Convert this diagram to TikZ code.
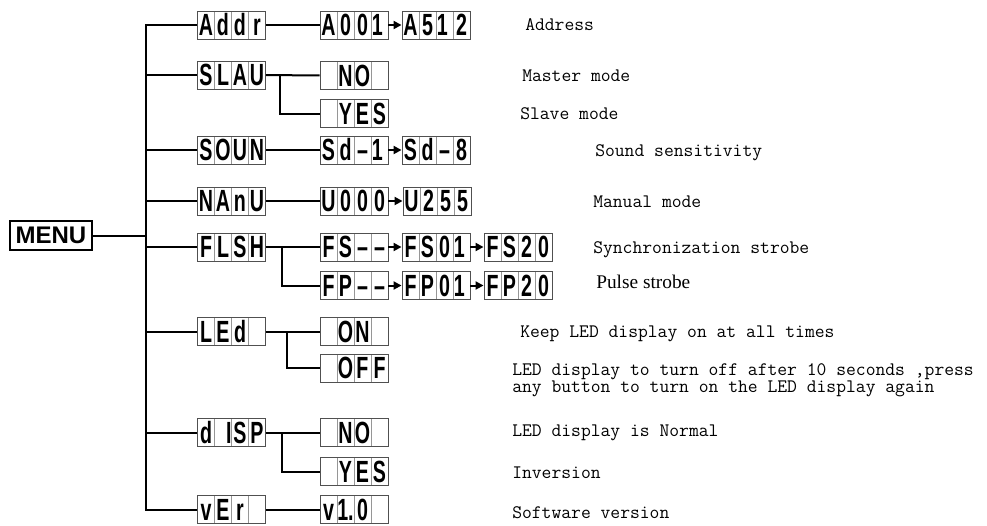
\documentclass[tikz,border=0pt]{standalone}
\usepackage{fontspec}
\usepackage{tikz}
\usetikzlibrary{arrows.meta}
\newfontfamily\segfont[FakeStretch=0.64]{Liberation Sans}
\newfontfamily\menufont{Liberation Sans}
\newfontfamily\pulsefont{Liberation Serif}
\definecolor{segframe}{RGB}{80,80,80}
\definecolor{segline}{RGB}{150,150,150}
\newcommand{\segcell}[1]{\makebox[12.75pt]{#1}}
\newcommand{\segs}[4]{\segcell{#1}\segcell{#2}\segcell{#3}\segcell{#4}\rule[-2.4pt]{0pt}{21pt}}

\begin{document}
\begin{tikzpicture}[x=0.75pt,y=-0.75pt,
  seg/.style={draw=segframe, line width=0.7pt, inner sep=0pt, minimum width=51pt, minimum height=21pt,
    font=\segfont\bfseries\fontsize{23}{23}\selectfont,
    path picture={\foreach \k in {1,2,3}
      \draw[segline, line width=0.6pt] ([xshift=\k*12.75pt]path picture bounding box.south west) -- ([xshift=\k*12.75pt]path picture bounding box.north west);}},
  conn/.style={line width=1.5pt},
  nxt/.style={line width=1.5pt, -{Triangle[length=6pt,width=6pt]}},
  desc/.style={anchor=base west, inner sep=0pt, font=\ttfamily\fontsize{14.3}{12.8}\selectfont}]
\useasboundingbox (0,0) rectangle (987,525);
% Menu and first level
\node[draw, line width=1.5pt, minimum width=61.5pt, minimum height=22pt, inner sep=0pt,
  font=\menufont\bfseries\fontsize{18}{18}\selectfont] (menu) at (51,235.5) {MENU};
\coordinate (trunk) at (146,235);
\node[seg] (addr) at (231.5,25) {\segs{A}{d}{d}{r}};
\node[seg] (slav) at (231.5,75) {\segs{S}{L}{A}{U}};
\node[seg] (soun) at (231.5,150) {\segs{S}{O}{U}{N}};
\node[seg] (manu) at (231.5,201) {\segs{N}{A}{n}{U}};
\node[seg] (flsh) at (231.5,247) {\segs{F}{L}{S}{H}};
\node[seg] (led) at (231.5,331.5) {\segs{L}{E}{d}{}};
\node[seg] (disp) at (231.5,432.5) {\segs{d}{\hfill I}{S}{P}};
\node[seg] (ver) at (231.5,509.5) {\segs{v}{E}{r}{}};
% Second level
\node[seg] (a001) at (354,25) {\segs{A}{0}{0}{\hfill 1\,}};
\node[seg] (a512) at (436,25) {\segs{A}{5}{\hfill 1\,}{2}};
\node[seg] (slavno) at (354,75.5) {\segs{}{N}{O}{}};
\node[seg] (slavyes) at (354,113.5) {\segs{}{Y}{E}{S}};
\node[seg] (sd1) at (354,150) {\segs{S}{d}{–}{\hfill 1\,}};
\node[seg] (sd8) at (436,150) {\segs{S}{d}{–}{8}};
\node[seg] (u000) at (354,201) {\segs{U}{0}{0}{0}};
\node[seg] (u255) at (437,201) {\segs{U}{2}{5}{5}};
\node[seg] (fs) at (354,247) {\segs{F}{S}{–}{–}};
\node[seg] (fs01) at (436,247) {\segs{F}{S}{0}{\hfill 1\,}};
\node[seg] (fs20) at (518,247) {\segs{F}{S}{2}{0}};
\node[seg] (fp) at (354,285.5) {\segs{F}{P}{–}{–}};
\node[seg] (fp01) at (436,285.5) {\segs{F}{P}{0}{\hfill 1\,}};
\node[seg] (fp20) at (518,285.5) {\segs{F}{P}{2}{0}};
\node[seg] (ledon) at (354,331.5) {\segs{}{O}{N}{}};
\node[seg] (ledoff) at (354,368) {\segs{}{O}{F}{F}};
\node[seg] (dispno) at (354,432.5) {\segs{}{N}{O}{}};
\node[seg] (dispyes) at (354,471.5) {\segs{}{Y}{E}{S}};
\node[seg] (v10) at (354,509.5) {\segs{v}{1.}{0}{}};
% Tree lines
\draw[conn] (menu.east) -- (menu.east -| trunk);
\draw[conn] (addr.west) -| (trunk |- ver.west) -- (ver.west);
\foreach \n in {slav,soun,manu,flsh,led,disp}
  \draw[conn] (\n.west) -- (\n.west -| trunk);
\draw[conn] (addr) -- (a001);
\draw[conn] (slav) -- (slavno);
\draw[conn] (slav.east) ++(14,0) |- (slavyes.west);
\draw[conn] (soun) -- (sd1);
\draw[conn] (manu) -- (u000);
\draw[conn] (flsh) -- (fs);
\draw[conn] (flsh.east) ++(16,0) |- (fp.west);
\draw[conn] (led) -- (ledon);
\draw[conn] (led.east) ++(21,0) |- (ledoff.west);
\draw[conn] (disp) -- (dispno);
\draw[conn] (disp.east) ++(16,0) |- (dispyes.west);
\draw[conn] (ver) -- (v10);
% Value ranges
\draw[nxt] (a001) -- (a512);
\draw[nxt] (sd1) -- (sd8);
\draw[nxt] (u000) -- (u255);
\draw[nxt] (fs) -- (fs01);
\draw[nxt] (fs01) -- (fs20);
\draw[nxt] (fp) -- (fp01);
\draw[nxt] (fp01) -- (fp20);
% Descriptions
\node[desc] (addrtxt) at (525,30) {Address};
\node[desc] (mastertxt) at (522,81) {Master mode};
\node[desc] (slavetxt) at (520,119) {Slave mode};
\node[desc] (sountxt) at (595,156) {Sound sensitivity};
\node[desc] (manutxt) at (593,207) {Manual mode};
\node[desc] (synctxt) at (593,253) {Synchronization strobe};
\node[desc, font=\pulsefont\fontsize{14.5}{14.5}\selectfont] (pulsetxt) at (596,288) {Pulse strobe};
\node[desc] (ontxt) at (520,337) {Keep LED display on at all times};
\node[desc, anchor=west, align=left] (offtxt) at (512,380) {LED display to turn off after 10 seconds ,press\\any button to turn on the LED display again};
\node[desc] (normtxt) at (512,436) {LED display is Normal};
\node[desc] (invtxt) at (512,478) {Inversion};
\node[desc] (vertxt) at (512,518) {Software version};
\end{tikzpicture}
\end{document}
